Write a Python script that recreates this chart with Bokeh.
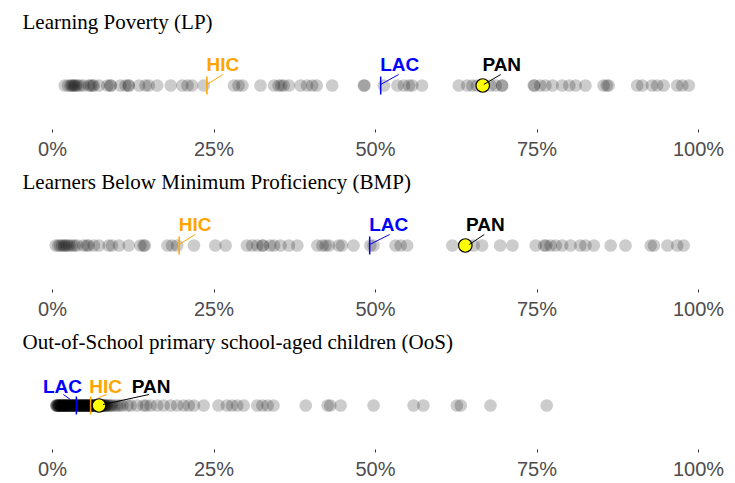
from bokeh.plotting import figure
from bokeh.layouts import column
from bokeh.models import Range1d, FixedTicker, PrintfTickFormatter, Spacer
from bokeh.core.properties import value
from bokeh.embed import file_html
from bokeh.resources import INLINE

# ---------------- data (percent) ----------------
titles = ["Learning Poverty (LP)",
          "Learners Below Minimum Proficiency (BMP)",
          "Out-of-School primary school-aged children (OoS)"]

lp_values = [1.9, 2.4, 2.8, 3.0, 3.2, 3.4, 3.6, 3.9, 4.3, 4.8, 5.6, 5.9, 6.2, 6.4, 7.2,
             8.5, 9.0, 9.0, 10.5, 11.3, 11.8, 11.8, 13.4, 14.4, 14.9, 16.2, 18.3, 20.1,
             20.9, 21.6, 23.4, 28.1, 28.8, 29.4, 32.2, 34.3, 35.0, 35.4, 35.8, 36.6, 38.4,
             39.4, 40.2, 40.9, 43.3, 48.2, 48.3, 51.3, 53.4, 54.4, 55.2, 55.7, 57.2, 62.9,
             64.2, 65.0, 65.7, 67.8, 68.6, 69.6, 69.6, 74.5, 74.6, 75.5, 76.3, 77.4, 78.9,
             80.0, 81.0, 82.5, 85.3, 85.8, 86.1, 90.5, 91.3, 92.8, 93.6, 94.6, 96.7, 97.5, 98.5]

bmp_values = [0.5, 0.9, 1.2, 1.5, 1.8, 2.0, 2.3, 2.6, 3.0, 3.4, 3.8, 4.8, 5.3, 5.6, 6.4,
              7.2, 8.7, 9.2, 10.3, 11.8, 13.6, 14.1, 14.3, 17.8, 18.5, 19.3, 21.9, 25.2,
              26.8, 30.1, 30.9, 31.7, 32.5, 32.6, 33.7, 34.3, 35.3, 36.6, 37.9, 41.0, 41.8,
              42.3, 42.8, 44.3, 44.8, 46.6, 49.2, 49.7, 53.1, 53.9, 54.9, 61.9, 63.9, 65.2,
              66.5, 69.3, 71.2, 74.8, 76.1, 76.4, 77.1, 77.9, 78.9, 80.2, 81.7, 82.5, 83.8,
              86.4, 88.7, 92.6, 93.1, 95.2, 96.7, 97.7]

oos_values = [0.6, 0.6, 0.7, 0.8, 0.8, 0.9, 1.0, 1.0, 1.1, 1.2, 1.2, 1.3, 1.4, 1.5, 1.5,
              1.6, 1.7, 1.8, 1.8, 1.9, 2.0, 2.0, 2.1, 2.2, 2.2, 2.3, 2.4, 2.5, 2.5, 2.6,
              2.7, 2.8, 2.9, 2.9, 3.0, 3.1, 3.2, 3.2, 3.3, 3.4, 3.5, 3.5, 3.6, 3.7, 3.8,
              3.9, 4.0, 4.1, 4.1, 4.2, 4.3, 4.4, 4.4, 4.5, 4.6, 4.7, 4.7, 4.8, 4.9, 5.0,
              5.0, 5.1, 5.2, 5.3, 5.3, 5.4, 5.5, 5.5, 5.6, 5.7, 5.8, 5.8, 6.0, 6.0, 6.1,
              6.2, 6.3, 6.3, 6.5, 6.5, 6.6, 6.7, 6.8, 6.9, 7.0, 7.0, 7.1, 7.2, 7.3, 7.4,
              7.5, 7.5, 7.6, 7.7, 7.7, 7.9, 8.0, 8.1, 8.2, 8.4, 8.5, 8.8, 9.0, 9.2, 9.6,
              10.0, 10.4, 10.8, 11.6, 12.1, 13.1, 14.1, 14.5, 15.2, 16.2, 17.2, 18.3, 19.3,
              20.3, 21.1, 21.9, 23.4, 25.7, 27.0, 27.8, 28.6, 29.6, 31.7, 32.5, 33.3, 34.2,
              39.2, 42.6, 43.0, 44.6, 49.7, 55.9, 57.4, 62.6, 63.2, 67.8, 76.5]

groups = ["HIC", "LAC", "PAN"]
lp_ref = [23.9, 50.8, 66.6]
bmp_ref = [19.6, 49.1, 63.9]
oos_ref = [5.9, 3.7, 7.2]

tick_values = [0, 25, 50, 75, 100]

# ---------------- style ----------------
colors = {"HIC": "#FFA500", "LAC": "#0000FF", "PAN": "#000000"}
PX = 6.46           # pixels per percentage point
X0, X1 = -34 / PX, 665 / PX
FW, FH = 699, 91
Y0, Y1 = -44, 47

# label placement (pixel offsets): label dx, label dy, leader start dx, dy, end dx, dy
lab_lp = {"HIC": (16, 21, 0, 1, 16, 11), "LAC": (19, 21, 0, 1, 18, 11), "PAN": (19, 21, 1, 1, 18, 11)}
lab_bmp = {"HIC": (16, 21, 0, 1, 16, 11), "LAC": (19, 21, 0, 1, 20, 11), "PAN": (20, 21, 4, 1, 19, 11)}
lab_oos = {"LAC": (-14, 19, -6, 6, -13, 11), "HIC": (15, 19, 8, 8, 16, 11), "PAN": (52, 19, 4, 1, 50, 11)}


def panel(title, vals, refs, labs):
    p = figure(frame_width=FW, frame_height=FH, output_backend="svg",
               toolbar_location=None, x_range=Range1d(X0, X1), y_range=Range1d(Y0, Y1),
               y_axis_location=None, min_border_left=18, min_border_right=10,
               min_border_top=0, min_border_bottom=0, title=title)
    p.title.text_font = "Liberation Serif"
    p.title.text_font_size = "21px"
    p.title.text_font_style = "normal"
    p.title.text_color = "black"
    p.title.align = "left"
    p.title.offset = 4
    p.outline_line_color = None
    p.grid.grid_line_color = None
    p.background_fill_color = "white"
    p.border_fill_color = "white"

    ax = p.xaxis[0]
    ax.ticker = FixedTicker(ticks=tick_values)
    ax.formatter = PrintfTickFormatter(format="%d%%")
    ax.axis_line_color = None
    ax.major_tick_line_color = "#333333"
    ax.major_tick_out = 3
    ax.major_tick_in = 0
    ax.minor_tick_line_color = None
    ax.major_label_standoff = 5
    ax.major_label_text_font = "Liberation Sans"
    ax.major_label_text_font_size = "20px"
    ax.major_label_text_color = "#4D4D4D"

    p.scatter(vals, [0] * len(vals), size=12.7, fill_color="black", fill_alpha=0.2,
              line_color=None)

    for g, v in zip(groups, refs):
        if g != "PAN":
            p.segment(x0=[v], y0=[-9], x1=[v], y1=[9], line_color=colors[g], line_width=1.5)
    pan = refs[groups.index("PAN")]
    p.scatter([pan], [0], size=13.5, fill_color="#FFFF00", line_color="black", line_width=1.2)

    for g, v in zip(groups, refs):
        ldx, ldy, sdx, sdy, edx, edy = labs[g]
        p.segment(x0=[v + sdx / PX], y0=[sdy], x1=[v + edx / PX], y1=[edy],
                  line_color=colors[g], line_width=1)
        p.text(x=[v + ldx / PX], y=[ldy], text=[g], text_align="center",
               text_baseline="middle", text_color=colors[g],
               text_font=value("Liberation Sans"), text_font_style="bold",
               text_font_size="19px")
    return p


p1 = panel(titles[0], lp_values, lp_ref, lab_lp)
p2 = panel(titles[1], bmp_values, bmp_ref, lab_bmp)
p3 = panel(titles[2], oos_values, oos_ref, lab_oos)

layout = column(Spacer(height=2, width=10), p1, p2, p3, spacing=0)

open("out.html", "w").write(file_html(layout, INLINE))
